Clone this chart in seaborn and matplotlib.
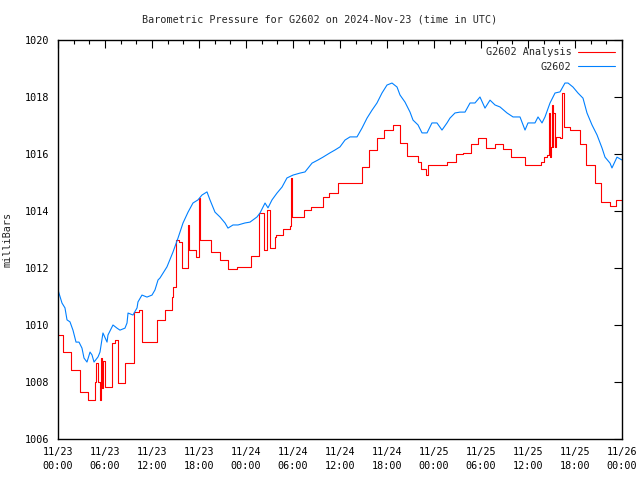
import matplotlib
matplotlib.use("Agg")
import matplotlib.pyplot as plt
import seaborn as sns
import pandas as pd
from matplotlib.ticker import MultipleLocator

# ---- data (hours since 2024-11-23 00:00 UTC, millibars) ----
obs_hours = [0, 0.51, 0.89, 1.15, 1.53, 1.91, 2.30, 2.68, 3.06, 3.32, 3.70, 4.09, 4.34, 4.60,
             5.11, 5.36, 5.74, 6.26, 6.38, 7.02, 7.53, 7.91, 8.55, 8.81, 8.94, 9.57, 10.09,
             10.21, 10.72, 11.36, 12.00, 12.38, 12.77, 13.02, 13.91, 14.68, 15.32, 15.96,
             16.60, 17.23, 17.87, 18.38, 19.02, 19.40, 20.04, 20.68, 21.32, 21.70, 22.34,
             22.98, 23.87, 24.51, 25.40, 25.79, 26.43, 26.81, 27.32, 27.96, 28.60, 29.23,
             30.00, 30.89, 31.53, 32.43, 33.19, 33.83, 34.72, 35.36, 36.00, 36.64, 37.28,
             38.17, 38.81, 39.45, 40.09, 40.72, 41.36, 42.00, 42.64, 43.28, 43.66, 44.30,
             44.94, 45.32, 45.96, 46.47, 47.11, 47.74, 48.38, 49.02, 49.66, 50.04, 50.68,
             51.32, 51.96, 52.60, 53.23, 53.87, 54.51, 55.15, 55.79, 56.43, 57.32, 58.09,
             58.98, 59.62, 60.00, 60.89, 61.28, 61.79, 62.17, 62.81, 63.45, 64.09, 64.72,
             65.11, 65.74, 66.38, 67.02, 67.53, 68.17, 68.81, 69.45, 69.83, 70.47, 70.72,
             71.36, 72.00]
obs_values = [1011.23, 1010.77, 1010.60, 1010.18, 1010.11, 1009.82, 1009.40, 1009.40, 1009.19,
              1008.84, 1008.70, 1009.05, 1008.95, 1008.70, 1008.88, 1009.05, 1009.72, 1009.40,
              1009.65, 1010.00, 1009.89, 1009.82, 1009.89, 1010.07, 1010.42, 1010.35, 1010.60,
              1010.81, 1011.05, 1010.98, 1011.05, 1011.23, 1011.58, 1011.65, 1012.04, 1012.56,
              1013.05, 1013.58, 1013.96, 1014.28, 1014.39, 1014.56, 1014.67, 1014.39, 1013.96,
              1013.79, 1013.58, 1013.40, 1013.51, 1013.51, 1013.58, 1013.61, 1013.79, 1013.93,
              1014.28, 1014.11, 1014.39, 1014.63, 1014.84, 1015.16, 1015.26, 1015.33, 1015.37,
              1015.68, 1015.79, 1015.89, 1016.04, 1016.14, 1016.25, 1016.49, 1016.60, 1016.60,
              1016.91, 1017.26, 1017.54, 1017.79, 1018.14, 1018.42, 1018.49, 1018.35, 1018.07,
              1017.82, 1017.47, 1017.19, 1017.02, 1016.74, 1016.74, 1017.09, 1017.09, 1016.84,
              1017.09, 1017.26, 1017.44, 1017.47, 1017.47, 1017.79, 1017.79, 1018.00, 1017.61,
              1017.89, 1017.72, 1017.65, 1017.44, 1017.30, 1017.30, 1016.84, 1017.09, 1017.09,
              1017.30, 1017.09, 1017.30, 1017.79, 1018.14, 1018.18, 1018.49, 1018.49, 1018.35,
              1018.14, 1017.96, 1017.44, 1017.02, 1016.67, 1016.21, 1015.89, 1015.68, 1015.51,
              1015.89, 1015.79]

ana_hours = [0, 0.68, 1.66, 2.81, 3.86, 4.72, 4.85, 5.07, 5.36, 5.49, 5.66, 5.79, 5.94, 6.90,
             7.30, 7.70, 8.55, 9.70, 10.30, 10.77, 12.68, 13.70, 14.55, 14.62, 15.10, 15.50,
             15.80, 16.64, 16.77, 17.60, 18.00, 18.15, 19.50, 20.68, 21.70, 22.80, 24.70,
             25.63, 26.33, 26.68, 27.10, 27.66, 27.80, 28.70, 29.60, 29.72, 29.87, 31.40,
             32.30, 33.85, 34.60, 35.75, 38.80, 39.73, 40.70, 41.60, 42.80, 43.66, 44.60,
             45.90, 46.40, 47.00, 47.20, 49.70, 50.80, 51.70, 52.70, 53.65, 54.60, 55.80,
             56.80, 57.80, 59.60, 61.70, 62.00, 62.40, 62.65, 62.75, 62.90, 63.00, 63.15,
             63.25, 63.40, 63.60, 64.10, 64.30, 64.60, 65.40, 66.60, 67.40, 68.60, 69.30,
             70.50, 71.20, 72.00]
ana_values = [1009.65, 1009.05, 1008.42, 1007.65, 1007.37, 1008.00, 1008.67, 1008.00, 1007.37,
              1008.84, 1007.79, 1008.74, 1007.82, 1009.37, 1009.47, 1007.96, 1008.67, 1010.46,
              1010.53, 1009.40, 1010.18, 1010.53, 1010.98, 1011.33, 1012.98, 1012.91, 1012.00,
              1013.51, 1012.63, 1012.39, 1014.46, 1012.98, 1012.56, 1012.28, 1011.96, 1012.03,
              1012.42, 1013.93, 1012.63, 1014.04, 1012.70, 1013.09, 1013.16, 1013.37, 1013.47,
              1015.15, 1013.79, 1014.04, 1014.14, 1014.49, 1014.63, 1014.98, 1015.54, 1016.14,
              1016.56, 1016.84, 1017.02, 1016.39, 1015.93, 1015.72, 1015.47, 1015.26, 1015.61,
              1015.72, 1016.00, 1016.04, 1016.35, 1016.56, 1016.21, 1016.35, 1016.18, 1015.89,
              1015.61, 1015.72, 1015.89, 1015.96, 1017.44, 1015.89, 1016.25, 1017.72, 1016.25,
              1017.44, 1016.25, 1016.60, 1016.56, 1018.14, 1016.95, 1016.84, 1016.35, 1015.61,
              1014.98, 1014.32, 1014.18, 1014.39, 1014.39]

tick_hours = [0, 6, 12, 18, 24, 30, 36, 42, 48, 54, 60, 66, 72]
tick_labels = ["11/23\n00:00", "11/23\n06:00", "11/23\n12:00", "11/23\n18:00",
               "11/24\n00:00", "11/24\n06:00", "11/24\n12:00", "11/24\n18:00",
               "11/25\n00:00", "11/25\n06:00", "11/25\n12:00", "11/25\n18:00",
               "11/26\n00:00"]
y_ticks = [1006, 1008, 1010, 1012, 1014, 1016, 1018, 1020]

title = "Barometric Pressure for G2602 on 2024-Nov-23 (time in UTC)"

sns.set_style("white")
plt.rcParams['font.family'] = ['DejaVu Sans Mono']
FS = 7.3
plt.rcParams['font.size'] = FS

fig = plt.figure(figsize=(6.4, 4.8), dpi=100)
ax = fig.add_axes([58/640, 1-439/480, (622-58)/640, (439-40)/480])

ana_df = pd.DataFrame({"hour": ana_hours, "mb": ana_values})
obs_df = pd.DataFrame({"hour": obs_hours, "mb": obs_values})

sns.lineplot(data=ana_df, x="hour", y="mb", ax=ax, color="#ff0000", linewidth=0.8,
             drawstyle="steps-post", estimator=None, sort=False, label="G2602 Analysis")
sns.lineplot(data=obs_df, x="hour", y="mb", ax=ax, color="#0080ff", linewidth=0.8,
             estimator=None, sort=False, label="G2602")

ax.set_xlim(0, 72)
ax.set_ylim(1006, 1020)
ax.set_xticks(tick_hours)
ax.set_xticklabels(tick_labels, linespacing=1.45)
ax.xaxis.set_minor_locator(MultipleLocator(2))
ax.set_yticks(y_ticks)
ax.set_yticklabels([str(v) for v in y_ticks])
ax.tick_params(axis="both", which="both", direction="in", top=True, right=True,
               labelsize=FS, colors="black")
ax.tick_params(axis="both", which="major", length=6, width=0.8)
ax.tick_params(axis="x", which="major", pad=6)
ax.tick_params(axis="y", which="major", pad=6)
ax.tick_params(axis="x", which="minor", length=3, width=0.8)
ax.set_xlabel("")
ax.set_ylabel("milliBars", fontsize=FS)
ax.yaxis.set_label_coords(-0.08, 0.5)
for s in ax.spines.values():
    s.set_visible(True)
    s.set_color("black")
    s.set_linewidth(1.0)

fig.text(0.5, 1-20/480, title, ha="center", va="center", fontsize=FS)

leg = ax.legend(loc="upper right", frameon=False, markerfirst=False, fontsize=FS,
                handlelength=3.6, borderaxespad=0.3, labelspacing=0.45, handletextpad=0.7)
for t in leg.get_texts():
    t.set_ha("right")
leg._legend_box.align = "right"

fig.savefig("out.png", dpi=100)
